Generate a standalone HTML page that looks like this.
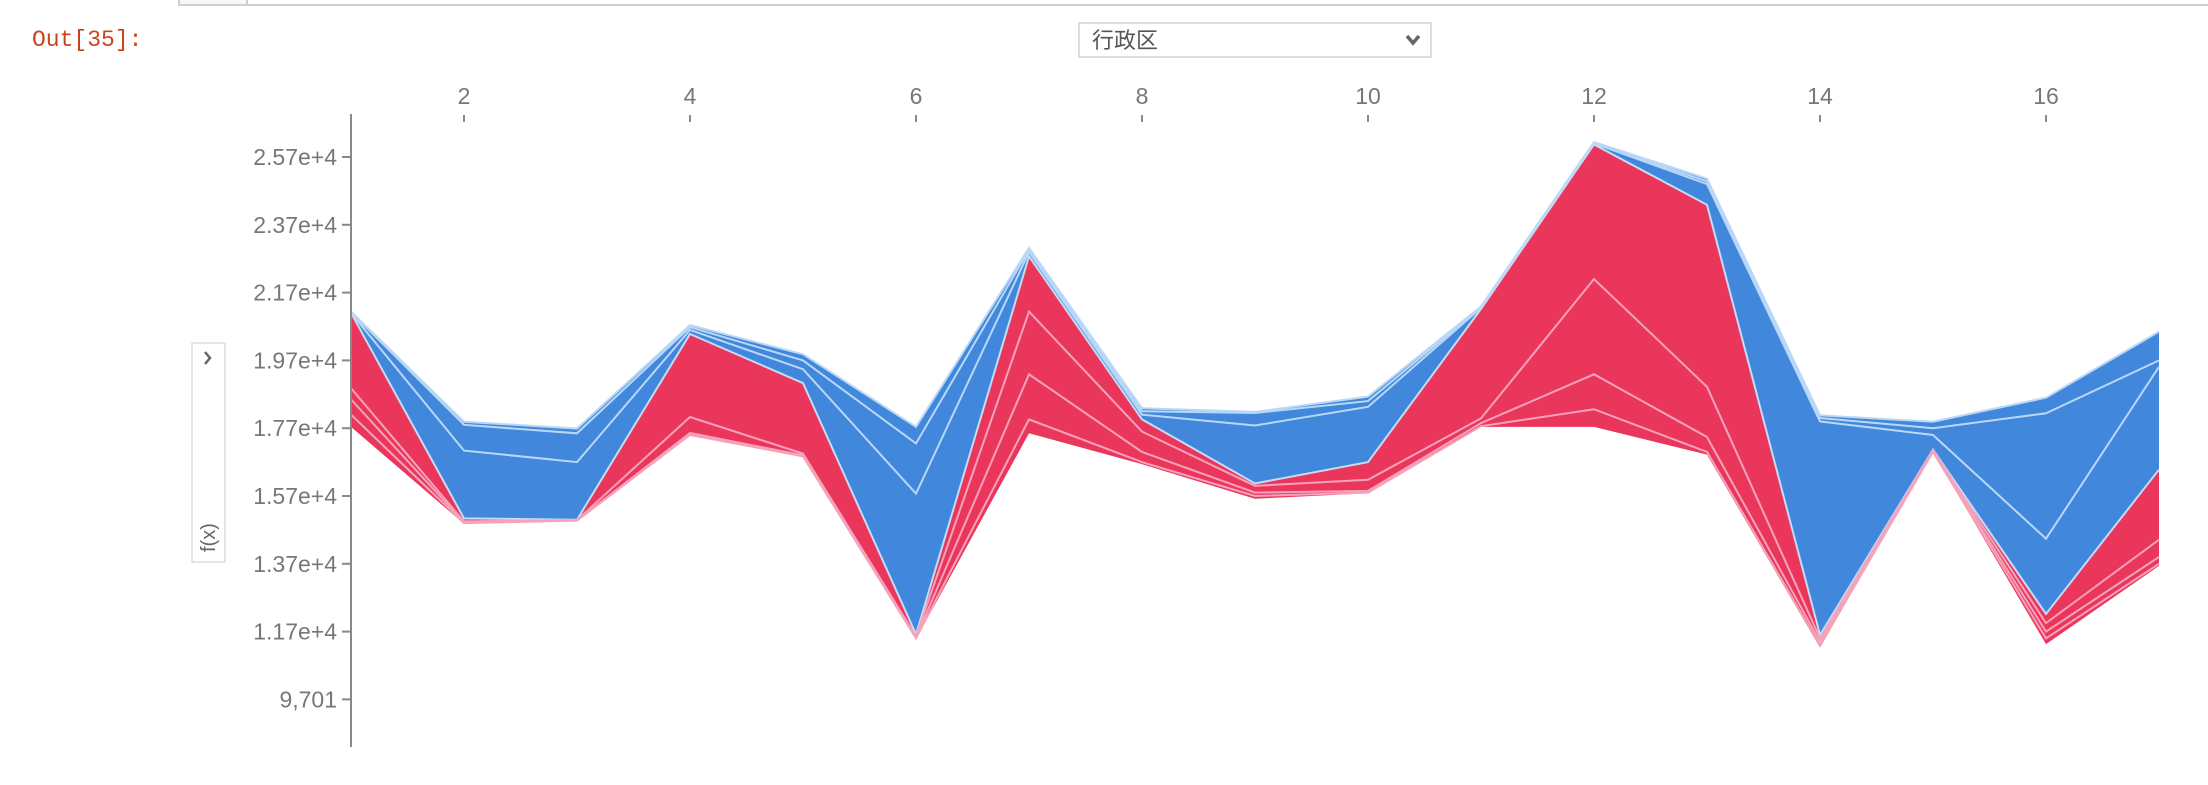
<!DOCTYPE html>
<html><head><meta charset="utf-8"><style>
body{margin:0;width:2208px;height:780px;background:#fff;overflow:hidden;font-family:"Liberation Sans","Noto Sans CJK SC",sans-serif;}
</style></head><body>
<svg width="2208" height="780" xmlns="http://www.w3.org/2000/svg">
<rect x="179" y="-10" width="2060" height="15" fill="#f7f7f7" stroke="#cfcfcf" stroke-width="2"/>
<rect x="247" y="-10" width="1990" height="15" fill="#fff" stroke="#cfcfcf" stroke-width="2"/>
<text x="32" y="46" font-family="Liberation Mono,monospace" font-size="23" fill="#c7441e">Out[35]:</text>
<g>
<rect x="1079" y="23" width="352" height="34" fill="#fff" stroke="#ddd" stroke-width="2"/>
<text x="1092" y="48" font-size="22" fill="#555">行政区</text>
<path d="M1407 36 l6 7 l6 -7" fill="none" stroke="#666" stroke-width="3.5"/>
</g>
<g>
<rect x="192" y="343" width="33" height="219" fill="#fff" stroke="#ddd" stroke-width="1.5"/>
<path d="M205 352 l5 6 l-5 6" fill="none" stroke="#666" stroke-width="2.5"/>
<text transform="translate(215,552) rotate(-90)" font-size="20" fill="#666">f(x)</text>
</g>
<g id="plot"></g>
</svg>
<script>
const xs=[1,2,3,4,5,6,7,8,9,10,11,12,13,14,15,16,17];
const topLine=[21140,17890,17690,20740,19880,17740,23020,18290,18180,18630,21290,26140,25060,18080,17890,18600,20550];
const splitLine=[21100,15040,15000,20480,19030,11620,22770,17960,16070,16700,21220,26070,24290,11600,17070,12220,16480];
const bottomLine=[17740,14880,14970,17490,16850,11480,17550,16640,15620,15780,17740,17740,16920,11230,16990,11330,13640];
const blueInner1=[21100,17040,16700,20600,19440,15770,22900,18100,17780,18330,21250,26100,24900,17900,17500,14440,19510];
const blueInner2=[21120,17800,17550,20680,19700,17250,22960,18200,18150,18500,21270,26120,24980,18000,17700,18140,19700];
const redInner1=[18880,14950,14990,18030,16950,11560,21140,17600,16000,16180,17990,22100,18920,11500,17050,11950,14410];
const redInner2=[18550,14920,14980,17560,16900,11520,19290,17000,15800,15850,17850,19290,17440,11400,17020,11700,13900];
const redInner3=[18100,14900,14975,17500,16870,11500,17960,16700,15700,15800,17760,18260,17000,11300,17000,11500,13700];
const yTicks=[25700,23700,21700,19700,17700,15700,13700,11700,9701];
const yTickLabels=["2.57e+4","2.37e+4","2.17e+4","1.97e+4","1.77e+4","1.57e+4","1.37e+4","1.17e+4","9,701"];
const xTicks=[2,4,6,8,10,12,14,16];
const X=v=>351+(v-1)*113;
const Y=v=>157+(25700-v)*0.0339;
const NS="http://www.w3.org/2000/svg";
const g=document.getElementById('plot');
function mk(t,a){const e=document.createElementNS(NS,t);for(const k in a)e.setAttribute(k,a[k]);g.appendChild(e);return e;}
function pts(arr){return arr.map((v,i)=>X(xs[i])+','+Y(v)).join(' ');}
function band(a,b){return pts(a)+' '+b.map((v,i)=>X(xs[i])+','+Y(v)).reverse().join(' ');}
let e=mk('polygon',{points:band(topLine,splitLine),fill:'#4187db'});


e=mk('polygon',{points:band(splitLine,bottomLine),fill:'#eb365c'});


[[blueInner1,'#b9d8f7'],[blueInner2,'#b9d8f7'],[topLine,'#b9d8f7'],[splitLine,'#c4dcf5']].forEach(([a,c],i)=>{
 const l=mk('polyline',{points:pts(a),fill:'none',stroke:c,'stroke-width':2});
 
 
});
[[redInner1,'#f5a3bb'],[redInner2,'#f5a3bb'],[redInner3,'#f5a3bb']].forEach(([a,c])=>{
 const l=mk('polyline',{points:pts(a),fill:'none',stroke:c,'stroke-width':2});
 
 
});
e=mk('line',{x1:351,y1:114,x2:351,y2:747,stroke:'#888','stroke-width':2});


yTicks.forEach((v,i)=>{
 const t=mk('line',{x1:342,x2:351,y1:Y(v),y2:Y(v),stroke:'#888','stroke-width':2});
 
 
 const s=mk('text',{x:337,y:Y(v)+8,'text-anchor':'end','font-size':23,fill:'#777'});
 s.textContent=yTickLabels[i];
 
 
});
xTicks.forEach(v=>{
 const t=mk('line',{x1:X(v),x2:X(v),y1:115,y2:122,stroke:'#888','stroke-width':2});
 
 
 const s=mk('text',{x:X(v),y:104,'text-anchor':'middle','font-size':23,fill:'#777'});
 s.textContent=v;
 
 
});
</script>
</body></html>
